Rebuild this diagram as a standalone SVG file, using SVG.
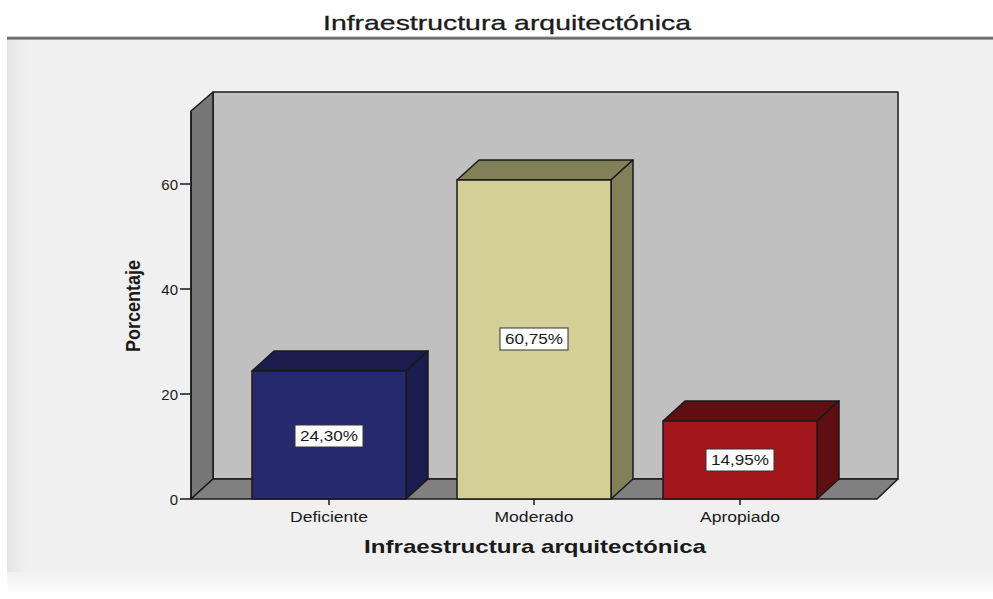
<svg xmlns="http://www.w3.org/2000/svg" width="993" height="599" viewBox="0 0 993 599">
<defs>
<linearGradient id="topline" x1="0" y1="0" x2="0" y2="1">
<stop offset="0" stop-color="#9a9a9a"/>
<stop offset="0.5" stop-color="#5a5a5a"/>
<stop offset="1" stop-color="#bdbdbd"/>
</linearGradient>
<linearGradient id="leftshade" x1="0" y1="0" x2="1" y2="0">
<stop offset="0" stop-color="#e6e6e6"/>
<stop offset="1" stop-color="#f0f0f0"/>
</linearGradient>
<linearGradient id="bottomfade" x1="0" y1="0" x2="0" y2="1">
<stop offset="0" stop-color="#f0f0f0"/>
<stop offset="1" stop-color="#ffffff"/>
</linearGradient>
</defs>
<style>
.edge{stroke:#1a1a1a;stroke-width:1.5;stroke-linejoin:round}
.t{font-family:"Liberation Sans",Arial,sans-serif;fill:#1a1a1a}
.tick{font-size:15px}
.cat{font-size:14px}
.val{font-size:14px}
.box{fill:#ffffff;stroke:#333333;stroke-width:1}
</style>
<rect x="0" y="0" width="993" height="599" fill="#ffffff"/>
<g id="panel">
<rect x="7" y="38" width="986" height="556" fill="#f0f0f0"/>
<rect x="7" y="38" width="20" height="556" fill="url(#leftshade)"/>
<rect x="7" y="572" width="986" height="23" fill="url(#bottomfade)"/>
<rect x="7" y="36.5" width="986" height="3.5" fill="url(#topline)"/>
</g>
<text class="t" x="507" y="29.5" font-size="21" stroke="#1a1a1a" stroke-width="0.3" text-anchor="middle" textLength="368" lengthAdjust="spacingAndGlyphs">Infraestructura arquitectónica</text>
<g id="walls">
<rect x="213" y="92" width="685" height="387" fill="#c0c0c0" class="edge"/>
<polygon points="191,111 213,92 213,479 191,499" fill="#777777" class="edge"/>
<polygon points="191,499 213,479 898,479 877,499" fill="#808080" class="edge"/>
</g>
<g id="axis">
<line x1="191" y1="111" x2="191" y2="499" stroke="#1a1a1a" stroke-width="1.5"/>
<line x1="180" y1="499" x2="191" y2="499" stroke="#1a1a1a" stroke-width="1.5"/>
<line x1="180" y1="394" x2="191" y2="394" stroke="#1a1a1a" stroke-width="1.5"/>
<line x1="180" y1="289" x2="191" y2="289" stroke="#1a1a1a" stroke-width="1.5"/>
<line x1="180" y1="184" x2="191" y2="184" stroke="#1a1a1a" stroke-width="1.5"/>
<text class="t tick" x="178" y="504.5" text-anchor="end">0</text>
<text class="t tick" x="178" y="399.5" text-anchor="end">20</text>
<text class="t tick" x="178" y="294.5" text-anchor="end">40</text>
<text class="t tick" x="178" y="189.5" text-anchor="end">60</text>
<text class="t" x="0" y="0" font-size="20" font-weight="bold" text-anchor="middle" textLength="92" lengthAdjust="spacingAndGlyphs" transform="translate(140,306) rotate(-90)">Porcentaje</text>
</g>
<g id="bar-deficiente">
<polygon points="252,371 274,351 428,351 406,371" fill="#1b1c4e" class="edge"/>
<polygon points="406,371 428,351 428,479 406,499" fill="#1b1c4e" class="edge"/>
<rect x="252" y="371" width="154" height="128" fill="#27296f" class="edge"/>
<rect class="box" x="295" y="425" width="68" height="22"/>
<text class="t val" x="329" y="441" text-anchor="middle" textLength="58" lengthAdjust="spacingAndGlyphs">24,30%</text>
</g>
<g id="bar-moderado">
<polygon points="457,180 479,160 633,160 611,180" fill="#818059" class="edge"/>
<polygon points="611,180 633,160 633,479 611,499" fill="#818059" class="edge"/>
<rect x="457" y="180" width="154" height="319" fill="#d3cf97" class="edge"/>
<rect class="box" x="500" y="328" width="68" height="22"/>
<text class="t val" x="534" y="344" text-anchor="middle" textLength="58" lengthAdjust="spacingAndGlyphs">60,75%</text>
</g>
<g id="bar-apropiado">
<polygon points="663,421 685,401 839,401 817,421" fill="#5f0e11" class="edge"/>
<polygon points="817,421 839,401 839,479 817,499" fill="#5f0e11" class="edge"/>
<rect x="663" y="421" width="154" height="78" fill="#a3161b" class="edge"/>
<rect class="box" x="706" y="449" width="68" height="22"/>
<text class="t val" x="740" y="465" text-anchor="middle" textLength="58" lengthAdjust="spacingAndGlyphs">14,95%</text>
</g>
<g id="categories">
<line x1="329" y1="499" x2="329" y2="505" stroke="#1a1a1a" stroke-width="1.5"/>
<line x1="534" y1="499" x2="534" y2="505" stroke="#1a1a1a" stroke-width="1.5"/>
<line x1="740" y1="499" x2="740" y2="505" stroke="#1a1a1a" stroke-width="1.5"/>
<text class="t cat" x="329" y="522" text-anchor="middle" textLength="78" lengthAdjust="spacingAndGlyphs">Deficiente</text>
<text class="t cat" x="534" y="522" text-anchor="middle" textLength="79" lengthAdjust="spacingAndGlyphs">Moderado</text>
<text class="t cat" x="740" y="522" text-anchor="middle" textLength="80" lengthAdjust="spacingAndGlyphs">Apropiado</text>
<text class="t" x="535" y="553" font-size="19" font-weight="bold" text-anchor="middle" textLength="342" lengthAdjust="spacingAndGlyphs">Infraestructura arquitectónica</text>
</g>
</svg>
